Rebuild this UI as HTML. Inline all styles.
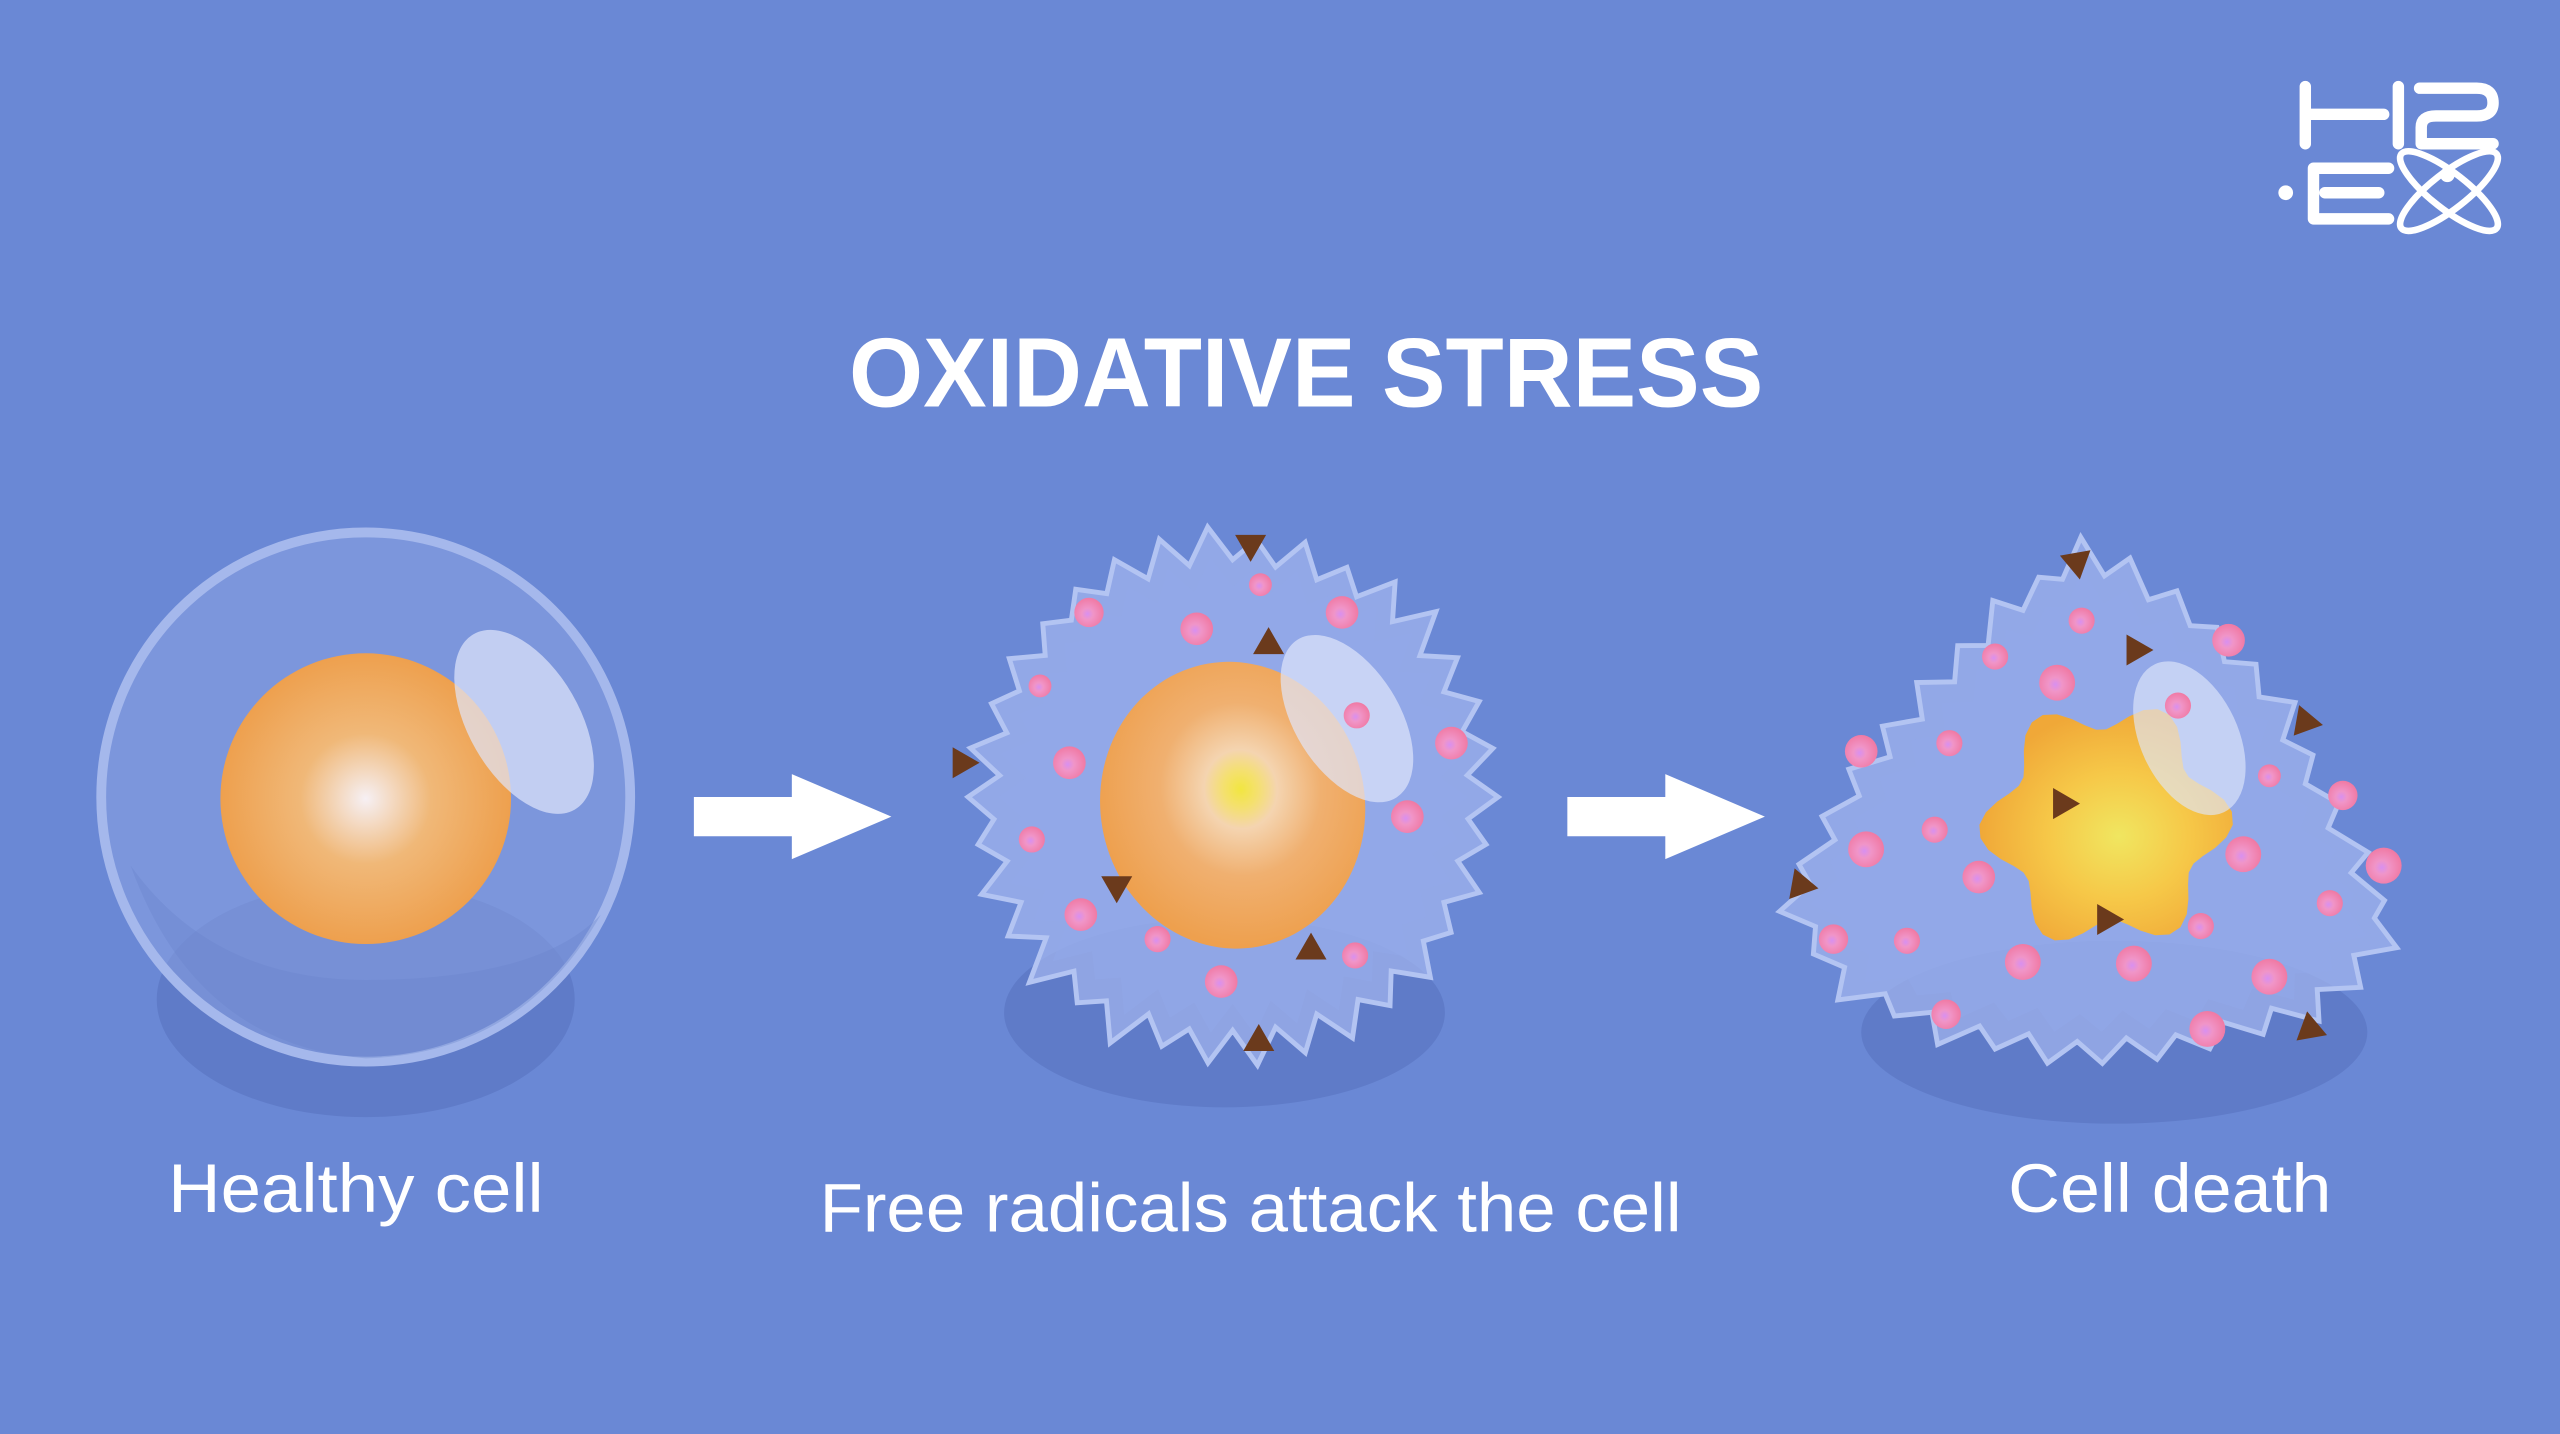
<!DOCTYPE html>
<html><head><meta charset="utf-8"><style>
html,body{margin:0;padding:0;background:#6a88d5;overflow:hidden}
svg{display:block}
</style></head><body>
<svg id="s" width="2560" height="1434" viewBox="0 0 1568 878" preserveAspectRatio="none" xmlns="http://www.w3.org/2000/svg">
<defs>
<radialGradient id="nuc1" cx="0.5" cy="0.5" r="0.5"><stop offset="0" stop-color="#f6f0f4"/><stop offset="0.45" stop-color="#f0b878"/><stop offset="1" stop-color="#eea04e"/></radialGradient>
<radialGradient id="nuc2" cx="0.54" cy="0.45" r="0.55"><stop offset="0" stop-color="#f2e640"/><stop offset="0.12" stop-color="#f4e070"/><stop offset="0.25" stop-color="#f4d4b0"/><stop offset="0.55" stop-color="#f0b070"/><stop offset="1" stop-color="#eea04e"/></radialGradient>
<radialGradient id="nuc3" cx="0.55" cy="0.55" r="0.55"><stop offset="0" stop-color="#f0e660"/><stop offset="0.5" stop-color="#f6c848"/><stop offset="1" stop-color="#f0a838"/></radialGradient>
<radialGradient id="dot" cx="0.45" cy="0.55" r="0.55"><stop offset="0" stop-color="#d890f0"/><stop offset="0.35" stop-color="#f095c8"/><stop offset="1" stop-color="#f07aa4"/></radialGradient>
</defs>
<rect width="1568" height="878" fill="#6a88d5"/>

<!-- logo -->
<g fill="none" stroke="#fff" stroke-width="7" stroke-linecap="round" stroke-linejoin="round">
<path d="M1412 53 V88 M1412 70 H1460 M1469 53 V88"/>
<path d="M1482 54 H1517 Q1527 54 1527 63 Q1527 71 1517 71 H1492 Q1483 71 1483 78 V88 H1527"/>
<path d="M1463 103 H1417 V134 H1463 M1424 118 H1457"/>
<ellipse cx="1500" cy="117" rx="37" ry="11" transform="rotate(-38 1500 117)" stroke-width="4"/>
<ellipse cx="1500" cy="117" rx="37" ry="11" transform="rotate(38 1500 117)" stroke-width="4"/>
</g>
<circle cx="1400" cy="118" r="4.5" fill="#fff"/>
<circle cx="1499" cy="107" r="4.5" fill="#fff"/>

<text x="800" y="249" text-anchor="middle" font-family="Liberation Sans, sans-serif" font-weight="bold" font-size="60" fill="#fff" textLength="560" lengthAdjust="spacingAndGlyphs">OXIDATIVE  STRESS</text>

<!-- cell 1 -->
<ellipse cx="224" cy="612" rx="128" ry="72" fill="#5f7bc8"/>
<circle cx="224" cy="488" r="162" fill="#8aa2e2" fill-opacity="0.55" stroke="#a5b8ec" stroke-width="6"/>
<path d="M80 530 Q120 640 224 648 Q320 645 368 560 Q330 600 224 600 Q130 600 80 530Z" fill="#6a84cc" fill-opacity="0.35"/>
<ellipse cx="224" cy="489" rx="89" ry="89" fill="url(#nuc1)"/>
<ellipse cx="321" cy="442" rx="34" ry="62" transform="rotate(-30 321 442)" fill="#dfe6fb" fill-opacity="0.7"/>

<!-- arrows -->
<path d="M425 488 H485 V474 L546 500 L485 526 V512 H425Z" fill="#fff"/>
<path d="M960 488 H1020 V474 L1081 500 L1020 526 V512 H960Z" fill="#fff"/>

<!-- cell 2 -->
<ellipse cx="750" cy="620" rx="135" ry="58" fill="#5f7bc8"/>
<g id="c2"></g>
<ellipse cx="755" cy="493" rx="81" ry="88" transform="rotate(-10 755 493)" fill="url(#nuc2)"/>
<ellipse cx="825" cy="440" rx="32" ry="57" transform="rotate(-32 825 440)" fill="#dfe6fb" fill-opacity="0.7"/>
<g id="d2"></g>

<!-- cell 3 -->
<ellipse cx="1295" cy="632" rx="155" ry="56" fill="#5f7bc8"/>
<g id="c3"></g>
<path id="star" fill="url(#nuc3)"/>
<ellipse cx="1341" cy="452" rx="30" ry="50" transform="rotate(-25 1341 452)" fill="#dfe6fb" fill-opacity="0.65"/>
<g id="d3"></g>

<g font-family="Liberation Sans, sans-serif" font-size="42" fill="#fff">
<text x="103" y="742" textLength="230" lengthAdjust="spacingAndGlyphs">Healthy cell</text>
<text x="502" y="754" textLength="528" lengthAdjust="spacingAndGlyphs">Free radicals attack the cell</text>
<text x="1230" y="742" textLength="198" lengthAdjust="spacingAndGlyphs">Cell death</text>
</g>
</svg>
<script>
var NS="http://www.w3.org/2000/svg";
function el(p,tag,a){var e=document.createElementNS(NS,tag);for(var k in a)e.setAttribute(k,a[k]);p.appendChild(e);return e;}
var seed=7;function rnd(){seed=(seed*9301+49297)%233280;return seed/233280;}
function spiky(cx,cy,rf,n){var d="";for(var i=0;i<n*2;i++){var a=i/(n*2)*Math.PI*2;var r=rf(a)*(i%2?0.9+rnd()*0.03:0.99+rnd()*0.08);var x=cx+Math.cos(a)*r,y=cy+Math.sin(a)*r;d+=(i?"L":"M")+x.toFixed(1)+" "+y.toFixed(1);}return d+"Z";}
// cell2
var c2=document.getElementById("c2");
seed=7;
el(c2,"path",{d:spiky(755,488,function(a){return 158;},34),fill:"#a4b6ee","fill-opacity":"0.7",stroke:"#b3c4f2","stroke-width":"3"});
seed=7;
el(c2,"path",{d:spiky(755,488,function(a){return 140;},34),fill:"#92a9e8","fill-opacity":"0.45"});
// cell3 outline polygon with spikes
var outline=[[1275,338],[1340,372],[1392,425],[1425,490],[1465,572],[1420,615],[1340,640],[1270,645],[1195,632],[1130,605],[1095,555],[1135,480],[1185,420],[1230,372]];
function polyPts(pts,N){var L=[],tot=0;for(var i=0;i<pts.length;i++){var a=pts[i],b=pts[(i+1)%pts.length];var l=Math.hypot(b[0]-a[0],b[1]-a[1]);L.push(l);tot+=l;}var out=[];for(var k=0;k<N;k++){var t=k/N*tot,i=0;while(t>L[i]){t-=L[i];i++;}var a=pts[i],b=pts[(i+1)%pts.length],f=t/L[i];out.push([a[0]+(b[0]-a[0])*f,a[1]+(b[1]-a[1])*f]);}return out;}
function spikePoly(pts,N,cx,cy,amp,shrink){seed=11;var p=polyPts(pts,N),d="";p.forEach(function(q,i){var dx=q[0]-cx,dy=q[1]-cy,l=Math.hypot(dx,dy);var off=(i%2?-amp*0.6:amp*(0.3+rnd()*0.7))-shrink;var x=q[0]+dx/l*off,y=q[1]+dy/l*off;d+=(i?"L":"M")+x.toFixed(1)+" "+y.toFixed(1);});return d+"Z";}
var c3=document.getElementById("c3");
el(c3,"path",{d:spikePoly(outline,64,1285,510,12,0),fill:"#a4b6ee","fill-opacity":"0.7",stroke:"#b3c4f2","stroke-width":"3"});
el(c3,"path",{d:spikePoly(outline,64,1285,510,10,18),fill:"#92a9e8","fill-opacity":"0.45"});
// star nucleus
var sd="";for(var i=0;i<=60;i++){var a=i/60*Math.PI*2;var r=68+10*Math.cos(6*a+0.3);var x=1290+Math.cos(a)*r,y=505+Math.sin(a)*r;sd+=(i?"L":"M")+x.toFixed(1)+" "+y.toFixed(1);}
document.getElementById("star").setAttribute("d",sd+"Z");
function dots(g,list){list.forEach(function(p){el(g,"circle",{cx:p[0],cy:p[1],r:p[2]||9,fill:"url(#dot)"});});}
function tris(g,list){list.forEach(function(p){var s=11,a=p[2]*Math.PI/180,pts=[];for(var k=0;k<3;k++){var b=a+k*2*Math.PI/3;pts.push((p[0]+Math.cos(b)*s).toFixed(1)+","+(p[1]+Math.sin(b)*s).toFixed(1));}el(g,"polygon",{points:pts.join(" "),fill:"#6b3a1c"});});}
var d2=document.getElementById("d2");
dots(d2,[[667,375],[733,385,10],[772,358,7],[822,375,10],[637,420,7],[655,467,10],[831,438,8],[889,455,10],[632,514,8],[862,500,10],[662,560,10],[709,575,8],[830,585,8],[748,601,10]]);
tris(d2,[[766,333,90],[777,395,150],[589,467,0],[684,542,210],[803,582,30],[771,638,270]]);
var d3=document.getElementById("d3");
dots(d3,[[1275,380,8],[1222,402,8],[1260,418,11],[1365,392,10],[1334,432,8],[1140,460,10],[1194,455,8],[1185,508,8],[1143,520,11],[1212,537,10],[1435,487,9],[1390,475,7],[1374,523,11],[1460,530,11],[1427,553,8],[1348,567,8],[1123,575,9],[1168,576,8],[1239,589,11],[1307,590,11],[1390,598,11],[1192,621,9],[1352,630,11]]);
tris(d3,[[1272,344,80],[1308,398,0],[1412,442,250],[1263,492,0],[1290,563,0],[1103,542,10],[1415,630,20]]);
</script>
</body></html>
